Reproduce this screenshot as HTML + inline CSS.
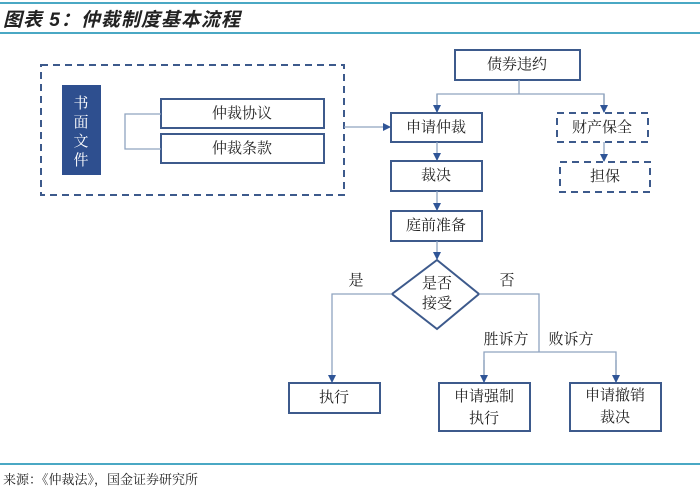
<!DOCTYPE html>
<html><head><meta charset="utf-8"><style>
body{margin:0;background:#fff;width:700px;height:491px;overflow:hidden;position:relative;font-family:"Liberation Serif","Noto Serif CJK SC",serif;color:#222}
.t{position:absolute;left:3px;top:5px;font-size:19px;font-style:italic;font-weight:bold;font-family:"Liberation Sans","Noto Sans CJK SC",sans-serif;color:#222;letter-spacing:1px}
.src{position:absolute;left:3px;top:469px;font-size:13px}
svg text{font-family:"Liberation Serif","Noto Serif CJK SC",serif;font-size:15px;fill:#222;text-anchor:middle;dominant-baseline:central}
</style></head><body>
<div class="t">图表 5：仲裁制度基本流程</div>
<div class="src">来源：《仲裁法》，国金证券研究所</div>
<svg width="700" height="491" style="position:absolute;left:0;top:0">
<defs><marker id="a" markerWidth="8" markerHeight="8" refX="7" refY="4" orient="auto" markerUnits="userSpaceOnUse"><path d="M0,0 L8,4 L0,8 z" fill="#2f5597"/></marker></defs>
<g stroke="#4aa8c4" stroke-width="2"><line x1="0" y1="3" x2="700" y2="3"/><line x1="0" y1="33" x2="700" y2="33"/><line x1="0" y1="464" x2="700" y2="464"/></g>
<g fill="none" stroke="#3d5a8c" stroke-width="2">
<rect x="41" y="65" width="303" height="130" stroke-dasharray="7,5"/>
<rect x="161" y="99" width="163" height="29"/>
<rect x="161" y="134" width="163" height="29"/>
<rect x="455" y="50" width="125" height="30"/>
<rect x="391" y="113" width="91" height="29"/>
<rect x="391" y="161" width="91" height="30"/>
<rect x="391" y="211" width="91" height="30"/>
<rect x="557" y="113" width="91" height="29" stroke-dasharray="7,5"/>
<rect x="560" y="162" width="90" height="30" stroke-dasharray="7,5"/>
<polygon points="437,260 479,294 437,329 392,294"/>
<rect x="289" y="383" width="91" height="30"/>
<rect x="439" y="383" width="91" height="48"/>
<rect x="570" y="383" width="91" height="48"/>
</g>
<rect x="62" y="85" width="39" height="90" fill="#2e4f8f"/>
<g fill="none" stroke="#8fa3bf" stroke-width="1.3">
<polyline points="161,114 125,114 125,149 161,149"/>
<line x1="344" y1="127" x2="390" y2="127" marker-end="url(#a)"/>
<line x1="519" y1="80" x2="519" y2="94"/>
<polyline points="437,112 437,94 604,94 604,112" />
<line x1="437" y1="94" x2="437" y2="112" marker-end="url(#a)"/>
<line x1="604" y1="94" x2="604" y2="112" marker-end="url(#a)"/>
<line x1="437" y1="142" x2="437" y2="160" marker-end="url(#a)"/>
<line x1="437" y1="191" x2="437" y2="210" marker-end="url(#a)"/>
<line x1="437" y1="241" x2="437" y2="259" marker-end="url(#a)"/>
<line x1="604" y1="142" x2="604" y2="161" marker-end="url(#a)"/>
<polyline points="392,294 332,294 332,382" marker-end="url(#a)"/>
<polyline points="479,294 539,294 539,352"/>
<polyline points="484,382 484,352 616,352 616,382"/>
<line x1="484" y1="360" x2="484" y2="382" marker-end="url(#a)"/>
<line x1="616" y1="360" x2="616" y2="382" marker-end="url(#a)"/>
</g>
<g fill="#fff" style="font-size:15px">
<text x="81" y="104" style="fill:#fff">书</text><text x="81" y="123" style="fill:#fff">面</text><text x="81" y="142" style="fill:#fff">文</text><text x="81" y="161" style="fill:#fff">件</text>
</g>
<text x="242" y="114">仲裁协议</text>
<text x="242" y="149">仲裁条款</text>
<text x="517" y="65">债券违约</text>
<text x="436" y="128">申请仲裁</text>
<text x="436" y="176">裁决</text>
<text x="436" y="226">庭前准备</text>
<text x="602" y="128">财产保全</text>
<text x="605" y="177">担保</text>
<text x="437" y="284">是否</text>
<text x="437" y="304">接受</text>
<text x="356" y="281">是</text>
<text x="507" y="281">否</text>
<text x="506" y="340">胜诉方</text>
<text x="571" y="340">败诉方</text>
<text x="334" y="398">执行</text>
<text x="484" y="397">申请强制</text>
<text x="484" y="419">执行</text>
<text x="615" y="396">申请撤销</text>
<text x="615" y="418">裁决</text>
</svg>
</body></html>
